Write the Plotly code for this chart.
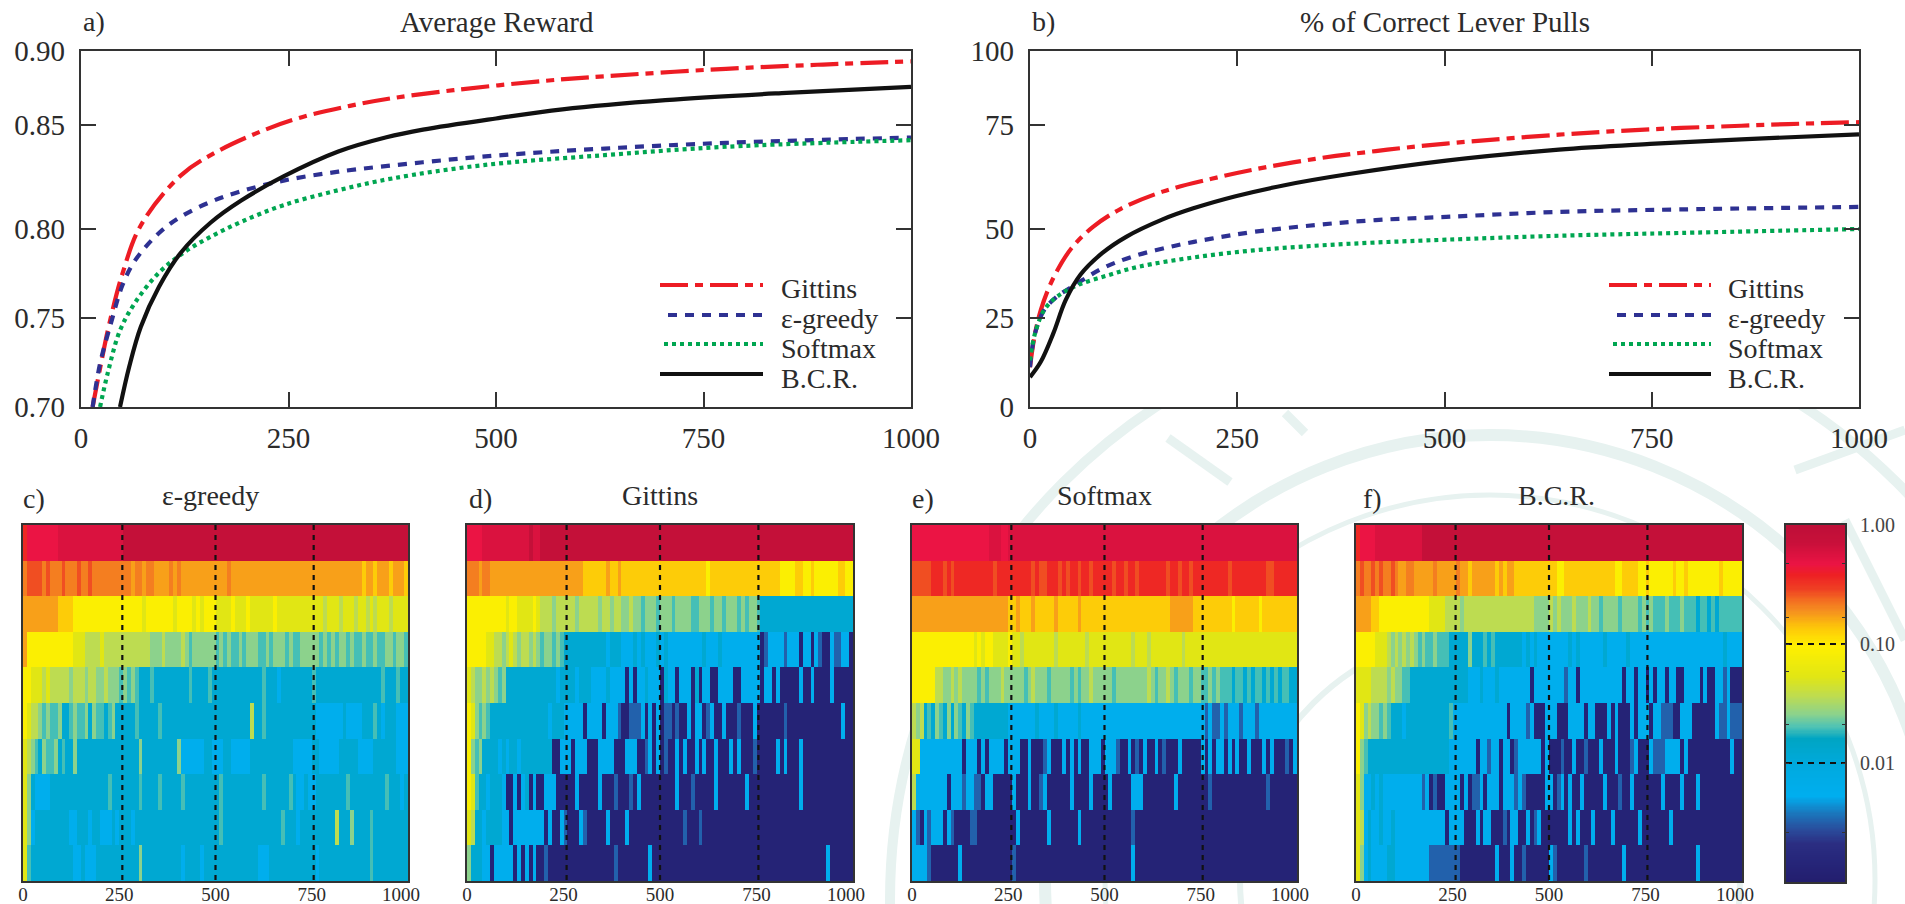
import numpy as np
import plotly.graph_objects as go

W, H = 1905, 904
FONT = "Liberation Serif"
INK = "#2b2b2b"

# ---------- line panels (values as positioned on each panel's vertical axis) ----------
A_GITTINS_X = [14, 25, 34, 50, 72, 120, 164, 222, 266, 324, 375, 449, 558, 631, 777, 894, 1000]
A_GITTINS_Y = [.700, .7265, .7465, .775, .802, .830, .8435, .8558, .8628, .8692, .8735, .878, .8832, .8858, .8900, .8924, .8942]
A_EPS_X = [14, 23, 36, 50, 65, 94, 120, 156, 193, 244, 310, 412, 507, 631, 777, 1000]
A_EPS_Y = [.700, .7244, .7469, .7685, .7822, .7978, .8068, .8152, .8212, .8272, .8322, .8375, .8415, .8452, .8484, .8514]
A_SOFT_X = [23, 32, 47, 65, 94, 123, 156, 193, 244, 310, 375, 485, 631, 777, 1000]
A_SOFT_Y = [.700, .7187, .743, .7585, .7755, .7865, .7956, .804, .8134, .8218, .8284, .8359, .8415, .8462, .8499]
A_BCR_X = [47, 58, 72, 94, 120, 156, 193, 244, 310, 368, 412, 500, 580, 704, 850, 1000]
A_BCR_Y = [.700, .7225, .745, .7675, .7865, .8035, .8160, .8295, .8435, .8515, .8558, .8621, .8672, .8724, .8765, .8799]

B_GITTINS_X = [0, 6, 13, 21, 32, 50, 76, 109, 160, 219, 270, 344, 417, 502, 638, 748, 858, 932, 1000]
B_GITTINS_Y = [11.2, 20.6, 27.2, 32.5, 38, 44.6, 50.6, 55.6, 60.5, 64.1, 66.7, 69.7, 71.9, 74, 76.5, 78, 79, 79.6, 80]
B_EPS_X = [0, 6, 17, 32, 57, 87, 123, 175, 219, 270, 344, 417, 502, 638, 785, 1000]
B_EPS_Y = [11.2, 20.6, 27.2, 30.9, 34.7, 38.9, 42.2, 45.3, 47.3, 49.2, 51.1, 52.5, 53.4, 54.8, 55.5, 56.2]
B_SOFT_X = [0, 6, 17, 32, 57, 94, 131, 197, 270, 344, 417, 502, 638, 785, 1000]
B_SOFT_Y = [13.1, 20.6, 27.2, 30.9, 34.2, 37, 39.4, 42, 44, 45.3, 46.2, 47, 48.1, 48.9, 50]
B_BCR_X = [0, 13, 28, 43, 61, 87, 116, 160, 197, 248, 307, 381, 502, 638, 748, 858, 1000]
B_BCR_Y = [8.4, 12.7, 20.6, 30, 37.2, 43.2, 47.8, 52.7, 55.8, 59.2, 62.3, 65.3, 69.2, 72.3, 73.9, 75.2, 76.6]

X_TICKS = [0, 250, 500, 750, 1000]
A_Y_TICKS = [.70, .75, .80, .8584, .90]
A_Y_LABELS = ["0.70", "0.75", "0.80", "0.85", "0.90"]
B_Y_TICKS = [0, 25, 50, 79.2, 100]
B_Y_LABELS = ["0", "25", "50", "75", "100"]
SERIES_NAMES = ["Gittins", "ε-greedy", "Softmax", "B.C.R."]

# ---------- heat panels: one letter per 10 trials, top row first ----------
LEVELS = {"a": .0013, "b": .0032, "c": .0056, "d": .012, "e": .0195, "f": .0257, "g": .036, "h": .053,
          "i": .089, "j": .13, "k": .172, "l": .21, "m": .27, "n": .355, "o": .468, "P": .575, "p": .81}

EPS_ROWS = [
 "nooooooooPPPPPPPPPPPPPPPPPppppppppppppppppppppppppppppppppppppppppppppppppppppppppppppppppppppppppppp",
 "lmmmmlmlllmlllmllmllllllllllkllkllkkkklklkkkkkkkkkkkklkkkkkkkkkkkkkkkkkkkkkkkkkkkkkkkkkkjkkjkkkjkkkjkk",
 "kkkkkkkkkjjjjiiiiiiiiiiiiiiiiiihiiiiiiihiiiihihiiihhhhihhhihhhhhhihhhhhhhhhhhhghhhghhhghhghghhhghhhhgg",
 "kiiiiiiiiiiiihhhgggghggggggggggggfffgffffgfeffffffefefeefefffeefefffefeefffffefefeffefeefeefeeffeffeff",
 "iihhhghgggggfgggfggffgfffefefedddedddddddddeddddedddddddddddddedddcddddddddedddddddddddddddddedddedddd",
 "ihggfefeefddefeefdfeedefdddddedddddedddddddddddddddddddddddgddedddddddddddddcccccccdccccdddedcdddcccdd",
 "hgfedfeefdeddfddddddddddddddddfdddddddddfccccccddcccddcccccdddddddddddcccccddcccccdddddccccddddddccccc",
 "hfdccccdddddddddddddddedddddddeddddedddddedddddddddeddddddddddeddddddedccdccddddddddedddddddddedddcdddd",
 "hfcdddddddddccdddcddcccdcdddcddddddddddddddddddddddedddddddddddddddedddcdddddddddgdddfddddedddddddddddd",
 "hedddddddddddccdcccdddddddddddfddddddddddcddddcddddddddddddddcccddddddddddddcdddddddddddddeddddddddddd",
]
GITTINS_ROWS = [
 "ooooPPPPPPPPPPPPpPPppppppppppppppppppppppppppppppppppppppppppppppppppppppppppppppppppppppppppppppppp",
 "lllkllkkkkkkkkkkkkkkkkkkkkkkkkjjjjjjkjjkjjjjjjjjjjjjjjjjjjjjjjijjjjjjjjjjjjjjjjjjiiiijjiijiiiiiijjii",
 "iiiiiiiiiihiihhhhihgggfgggggfgggggfggfggffgffefffefffeffffeefffeffefffefeffedddddddddddddddddddddddd",
 "iiiiihhggfghgfggfgfeffefedddddddddddcdddcccdcdcccdcdcccccccccdcccdccccccccccabccccbcccaccacbaacbbccac",
 "hgffgfgfefdddddddddddddcddddcdddccccdccccacaccdcccadccacccadaccaaccccaacccccaccacaaaaacaacaaaacaaaaa",
 "ihfefedddddddddddddddcdddcccccaccccacccbaabbbcacacabbabaacaccabcaacaaabaaacaaaaaaabaaaaaaaaaaaaaacaaa",
 "ifefddddcdcddcddddddddaacccacccaaaccccaaacccaabcacabaacacaacacaacaaacacaaabaaaaacacaaacaaaaaaaaaaaaa",
 "iheddcdddcaacacdacaacccaaaaacaaaaacaaabaaabacaaaaaaaaacaaabaaaaacaaaaaaacaaaaaaaaaaaaacaaaaaaaaaaaaa",
 "hgddcddddccaccccccccacaacbaaacbaaaaacaaaacaaaaaaaaaaaaaabaaabaaaaaaaaaaaaaaaaaaaaaaaaaaaaaaaaaaaaaaa",
 "fdddccacccccacacacaabaaaaaaaaaaaaaaaaabaaaaaaaacaaaaaaaaaaaaaaaaaaaaaaaaaaaaaaaaaaaaaaaaaaaaacaaaaaaa",
]
SOFT_ROWS = [
 "ooooooooooooooooooooPPPooPPPPPPPPPPPPPPPPPPPPPPPPPPPPPPPPPPPPPPPPPPPPPPPPPPPPPPPPPPPPPPPPPPPPPPPPPPP",
 "mmmmmnnnmnmnnnnnnnnnnmnnnnnnnnnmnmmnnnmnmnnmnnmnnnnnmnnmnnmnnnnnnnmnnmnnmnnnnnnnnnmnnnnnnnnnmmnnnnn",
 "kkkkkkkkkkkkkkkkkkkkkkkkkjjkjjjkjjjjjkjjjjjkjjjjjjjjjjjjjjjjjjjjjjjkkkkkkjjjjjjjjjjijjjjjjijjjjjjjjjj",
 "iiiiiiiiiiiiiiiihihiihhhhihhghhhhhhhhghhhhhhhghhhhhhhhhhhghhhghhhhhhhhghhhhhhhhhhhhhhhhhhhhhhhhhhhhhh",
 "iiiiiiggffgfgffffefefffgfffffefgfffefffffefeffgfffffeffffffffgfeffgfefffeffeefefeeedeededeedededeeddd",
 "gfgdedfedfdfedfedddddddddcccccccdccccdcccccdccccccccccccccccccccccccccccccccbcbbcbcccbcccbccccccccccc",
 "hhcccccccccccacccacaccccacccaacaaabcaaacacacaacccacccbaacabacaacabaaacaaaaacacaccacacaacaaacacaaabacc",
 "gccccccccacccbccbbaccaaaaacaaacaabcaaaaaacaaaacaaaacaaaaacccaaaaaaaacaaaaaaaabaaaaaaaaaaaaaabaaaaaaaa",
 "cbacbcccacbaaaabbaaaaaaaaaacaaaaaaacaaaaaaacaaaaaaaaaaaaabaaaaaaaaaaaaaaaaaaaaaaaaaaaaaaaaaaaaaaaaaaa",
 "ccccbaaaaaaacaaaaaaaaaaaaabaaaaaaaaaaaaaaaaaaaaaaaaaaaaaacaaaaaaaaaaaaaaaaaaaaaaaaaaaaaaaaaaaaaaaaaaa",
]
BCR_ROWS = [
 "nooooPPPPPPPPPPPPppppppppppppppppppppppppppppppppppppppppppppppppppppppppppppppppppppppppppppppppppp",
 "lmllmlmllmlkkllkkkkklkkkkklkkjkkkkkkjkjkkjjjjjjjjjjjiijjjjjjjjjjjjjiijjjjiijiiiiiijiijiiiiiiiijiiiii",
 "kkkkjjiiiiiiiiiiiiihhhhggggfggggggggggggggggggffffgfgfffgfffgffeffffeffffefefeeefeeefeeedeededeeeeeee",
 "iiiiihhhgfgfgfgfefeefeeedddddfdddededddddddcdcdccccccccdcdccccccdcccccdccccccccccccccccccccccccdccccc",
 "hhhhggggfgffeedddddddddddddddcccdcccdccccccccaccccccccbccacccccccccccaccaccacaccaccaaccccacaaccbcaaaa",
 "ihfgffefedddcdddddddddddeccccccccccccccaccccbcaaacccaaaccccaccaaacacaaacacccaccbbbaacccaaaaaacbbcbbbb",
 "ifedddddddddddddddddddddcccccccaccbccaccabccccccacaaabaacaabaaacaaacaaabcaaacbbbccccacaaaaaaaaaaacaac",
 "hfccdcdccccccccccbcabaaccccacabbcacccacccbcbaaaaaccabcacaacaaaaacaaabaacaaaaaaacaaaacaaacaaaaaaaaaaaa",
 "hgcdccdccdcccccccccccccaccccaaacaccaaabaccaacabcaaaaaaacacaaacaaaacaaaaaacaaaaaaacaaaaaaaaaaaaaaaaaaa",
 "hfcdccccddcccccccccbbbbbbbbaaaaaaaaacaaacaabaaaaaacbaaaaaaabaaaaaaaaacaaaaaaaaaaaaaaaaaacaaaaaaaaaaaa",
]
COLUMN_CENTERS = list(range(5, 1000, 10))
ROW_NUMBERS = list(range(1, 11))
DIVIDER_TRIALS = [258, 500, 755]
HEAT_TICKS = [0, 250, 500, 750, 982]
HEAT_TICK_LABELS = ["0", "250", "500", "750", "1000"]

CBAR_STEPS = list(np.round(np.arange(-3, 0.001, 0.01), 2))
CBAR_TICKS = [0, -.32, -.78, -1, -1.23, -1.68, -2, -2.58]
CBAR_LABELS = ["1.00", "", "", "0.10", "", "", "0.01", ""]
CBAR_DASHES = [-1, -2]

COLORSCALE = [
    [0.000, "#231e6e"], [0.060, "#26267a"], [0.107, "#2b2e82"], [0.145, "#2a4b9b"], [0.190, "#1b75bb"],
    [0.240, "#00aeef"], [0.320, "#00aae0"], [0.400, "#00a5c3"], [0.435, "#50c3b4"],
    [0.470, "#8cd28c"], [0.520, "#bedc50"], [0.575, "#e1e614"], [0.660, "#fff000"], [0.715, "#fdc40a"],
    [0.760, "#f58e20"], [0.790, "#f36c21"], [0.820, "#ef4023"], [0.860, "#ee2024"],
    [0.890, "#eb1444"], [0.950, "#c8103a"], [1.000, "#be0f38"],
]

RED, BLUE, GREEN, BLACK = "#ed1c24", "#2e3192", "#00a651", "#111111"
DASHES = ["28px,7px,8px,7px", "9px,8px", "4px,4px", "solid"]
COLORS = [RED, BLUE, GREEN, BLACK]


def dom(lo, hi, size):
    return [lo / size, hi / size]


def ydom(top, bottom):
    return [(H - bottom) / H, (H - top) / H]


fig = go.Figure()
layout = dict(template="none", width=W, height=H, margin=dict(l=0, r=0, t=0, b=0, pad=0, autoexpand=False),
              autosize=False, paper_bgcolor="white", plot_bgcolor="rgba(0,0,0,0)", showlegend=False,
              font=dict(family=FONT, color=INK))
annotations, shapes = [], []


def px_text(x, y, text, size, anchor="center", color=INK):
    annotations.append(dict(x=x / W, y=1 - y / H, xref="paper", yref="paper", text=text, showarrow=False,
                            xanchor=anchor, yanchor="middle", font=dict(size=size, family=FONT, color=color)))


# watermark, then white panel interiors
WM = "#e7f2f0"
for cx, cy, r, w in [(1480, 900, 590, 10), (1490, 880, 445, 12), (1490, 880, 385, 5), (1490, 880, 250, 6)]:
    shapes.append(dict(type="circle", xref="paper", yref="paper", layer="below",
                       x0=(cx - r) / W, x1=(cx + r) / W, y0=1 - (cy + r) / H, y1=1 - (cy - r) / H,
                       line=dict(color=WM, width=w)))
for x0, y0, x1, y1 in [(1168, 438, 1230, 482), (1285, 413, 1305, 433), (1845, 520, 1905, 640), (1795, 470, 1905, 430)]:
    shapes.append(dict(type="line", xref="paper", yref="paper", layer="below", x0=x0 / W, x1=x1 / W,
                       y0=1 - y0 / H, y1=1 - y1 / H, line=dict(color=WM, width=9)))
for x0, x1 in [(81, 911), (1030, 1859)]:
    shapes.append(dict(type="rect", xref="paper", yref="paper", layer="below", x0=x0 / W, x1=x1 / W,
                       y0=1 - 407 / H, y1=1 - 51 / H, fillcolor="white", line=dict(width=0)))

# line panels
TOP = [
    (1, (81, 911), A_Y_TICKS, A_Y_LABELS, [.70, .90],
     [(A_GITTINS_X, A_GITTINS_Y), (A_EPS_X, A_EPS_Y), (A_SOFT_X, A_SOFT_Y), (A_BCR_X, A_BCR_Y)]),
    (2, (1030, 1859), B_Y_TICKS, B_Y_LABELS, [0, 100],
     [(B_GITTINS_X, B_GITTINS_Y), (B_EPS_X, B_EPS_Y), (B_SOFT_X, B_SOFT_Y), (B_BCR_X, B_BCR_Y)]),
]
for i, xspan, yt, yl, yr, data in TOP:
    for (xs, ys), name, c, d in zip(data, SERIES_NAMES, COLORS, DASHES):
        fig.add_trace(go.Scatter(x=xs, y=ys, name=name, mode="lines", xaxis=f"x{i}", yaxis=f"y{i}",
                                 line=dict(color=c, width=4.2, dash=d, shape="spline", smoothing=1.0)))
    common = dict(showline=True, linecolor="#333333", linewidth=2.2, mirror="ticks", ticks="inside", ticklen=15,
                  tickwidth=2, tickcolor="#333333", showgrid=False, zeroline=False, automargin=False,
                  tickfont=dict(size=29, family=FONT, color=INK))
    layout[f"xaxis{i}"] = dict(domain=dom(*xspan, W), range=[0, 1000], anchor=f"y{i}", tickvals=X_TICKS,
                               ticktext=[str(t) for t in X_TICKS], ticklabelstandoff=4, **common)
    layout[f"yaxis{i}"] = dict(domain=ydom(51, 407), range=yr, anchor=f"x{i}", tickvals=yt, ticktext=yl,
                               ticklabelstandoff=8, **common)

for label, lx, title, tx in [("a)", 94, "Average Reward", 497), ("b)", 1043, "% of Correct Lever Pulls", 1445)]:
    px_text(lx, 22, label, 28)
    px_text(tx, 22, title, 29)

# hand-placed legends
KEY_ROWS = [285, 315, 344, 374]
TEXT_ROWS = [288, 318, 348, 378]
for key_x0, key_x1, text_x in [(660, 763, 779), (1609, 1711, 1726)]:
    for name, c, d, ky, ty, inset in zip(SERIES_NAMES, COLORS, DASHES, KEY_ROWS, TEXT_ROWS, [0, 8, 4, 0]):
        shapes.append(dict(type="line", xref="paper", yref="paper", x0=(key_x0 + inset) / W, x1=key_x1 / W,
                           y0=1 - ky / H, y1=1 - ky / H, line=dict(color=c, width=4.2, dash=d)))
        px_text(text_x, ty, name, 28, anchor="left")

# heat panels
HEAT = [
    (3, (23, 408), EPS_ROWS, "c)", 34, "ε-greedy", 210),
    (4, (467, 853), GITTINS_ROWS, "d)", 480, "Gittins", 660),
    (5, (912, 1297), SOFT_ROWS, "e)", 923, "Softmax", 1104),
    (6, (1356, 1742), BCR_ROWS, "f)", 1372, "B.C.R.", 1556),
]
for i, xspan, rows, label, lx, title, tx in HEAT:
    z = [[np.log10(LEVELS[ch]) for ch in (r + r[-1] * 100)[:100]] for r in rows]
    fig.add_trace(go.Heatmap(x=COLUMN_CENTERS, y=ROW_NUMBERS, z=z, xaxis=f"x{i}", yaxis=f"y{i}", zmin=-3, zmax=0,
                             colorscale=COLORSCALE, showscale=False))
    for t in DIVIDER_TRIALS:
        fig.add_trace(go.Scatter(x=[t, t], y=[0.5, 10.5], mode="lines", xaxis=f"x{i}", yaxis=f"y{i}",
                                 line=dict(color="#111111", width=2.2, dash="5px,5px"), hoverinfo="skip"))
    layout[f"xaxis{i}"] = dict(domain=dom(*xspan, W), range=[0, 1000], anchor=f"y{i}", tickvals=HEAT_TICKS,
                               ticktext=HEAT_TICK_LABELS, ticks="", showgrid=False, zeroline=False, showline=True,
                               mirror=True, linecolor="#333333", linewidth=2, ticklabelstandoff=-5, automargin=False,
                               tickfont=dict(size=19, family=FONT, color=INK))
    layout[f"yaxis{i}"] = dict(domain=ydom(525, 881), range=[10.5, 0.5], anchor=f"x{i}", showticklabels=False,
                               ticks="", showgrid=False, zeroline=False, showline=True, mirror=True,
                               linecolor="#333333", linewidth=2, automargin=False)
    px_text(lx, 498, label, 28)
    px_text(tx, 495, title, 28)

# colour bar
fig.add_trace(go.Heatmap(x=[0, 1], y=CBAR_STEPS, z=[[v, v] for v in CBAR_STEPS], xaxis="x7", yaxis="y7",
                         zmin=-3, zmax=0, colorscale=COLORSCALE, showscale=False))
for v in CBAR_DASHES:
    fig.add_trace(go.Scatter(x=[-.5, 1.5], y=[v, v], mode="lines", xaxis="x7", yaxis="y7",
                             line=dict(color="#111111", width=2.2, dash="6px,5px"), hoverinfo="skip"))
layout["xaxis7"] = dict(domain=dom(1786, 1845, W), range=[-.5, 1.5], anchor="y7", showticklabels=False, ticks="",
                        showgrid=False, zeroline=False, showline=True, mirror=True, linecolor="#333333", linewidth=2,
                        automargin=False)
layout["yaxis7"] = dict(domain=ydom(525, 882), range=[-3, 0], anchor="x7", side="right", tickvals=CBAR_TICKS,
                        ticktext=CBAR_LABELS, ticks="inside", ticklen=3, tickwidth=1, tickcolor="#333333",
                        showgrid=False, zeroline=False, showline=True, mirror="ticks", linecolor="#333333",
                        linewidth=2, ticklabelstandoff=9, automargin=False,
                        tickfont=dict(size=20, family=FONT, color="#444444"))

layout["annotations"] = annotations
layout["shapes"] = shapes
fig.update_layout(**layout)
fig.write_html("out.html", config={"displayModeBar": False},
               post_script="document.body.style.margin='0';document.documentElement.style.overflow='hidden';")
